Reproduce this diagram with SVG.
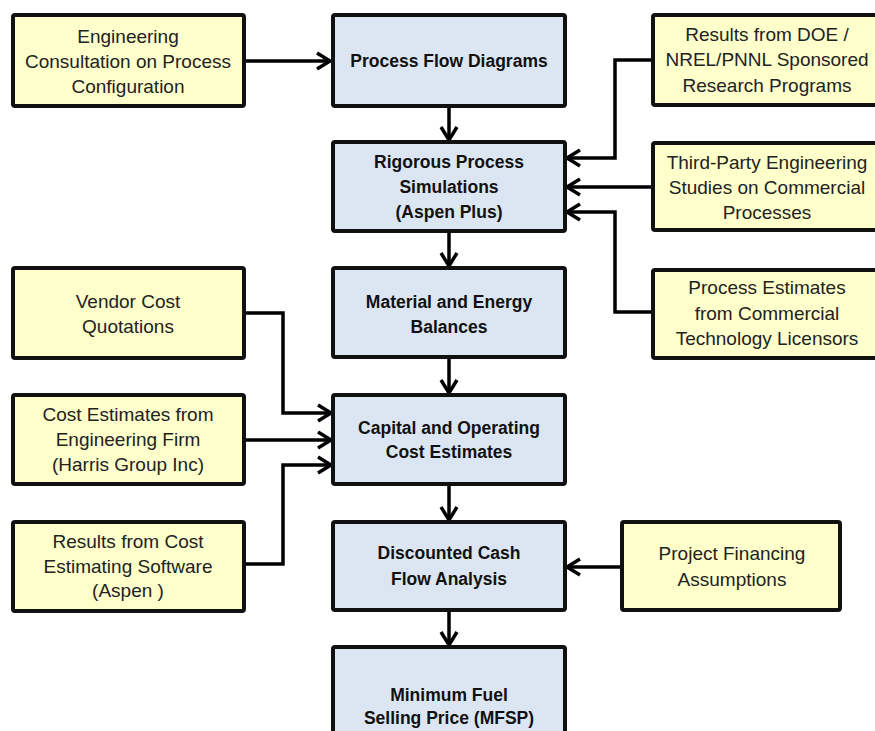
<svg xmlns="http://www.w3.org/2000/svg" width="875" height="731" viewBox="0 0 875 731">
<defs>
<marker id="arr" markerUnits="userSpaceOnUse" markerWidth="22" markerHeight="22" viewBox="-15 -11 17 22" refX="0" refY="0" orient="auto">
<path d="M-13,-8 L0,0 L-13,8" fill="none" stroke="#000" stroke-width="3.5"/>
</marker>
<style>
.in rect{fill:#FFFFCC;stroke:#111;stroke-width:4}
.pr rect{fill:#DCE6F2;stroke:#111;stroke-width:4}
.in text{font-family:"Liberation Sans",Arial,sans-serif;font-size:19px;fill:#222;text-anchor:middle}
.pr text{font-family:"Liberation Sans",Arial,sans-serif;font-size:17.5px;font-weight:bold;fill:#111;text-anchor:middle}
#connectors path{fill:none;stroke:#000;stroke-width:3.5;marker-end:url(#arr)}
</style>
</defs>
<rect width="875" height="731" fill="#fff"/>

<g id="connectors">
<path d="M245,61 H330"/>
<path d="M449,106 V140"/>
<path d="M449,231 V266"/>
<path d="M449,357 V393"/>
<path d="M449,484 V520"/>
<path d="M449,610 V645"/>
<path d="M653,60 H615 V158 H567"/>
<path d="M653,187 H567"/>
<path d="M653,312 H615 V212 H567"/>
<path d="M245,313 H283 V413 H331"/>
<path d="M245,440 H331"/>
<path d="M245,564 H283 V465 H331"/>
<path d="M622,567 H567"/>
</g>

<g id="n-eng" class="in"><rect x="13" y="15" width="231" height="91" rx="2"/>
<text x="128" y="43">Engineering</text><text x="128" y="68">Consultation on Process</text><text x="128" y="93">Configuration</text></g>

<g id="n-pfd" class="pr"><rect x="333" y="15" width="232" height="91" rx="2"/>
<text x="449" y="67">Process Flow Diagrams</text></g>

<g id="n-sim" class="pr"><rect x="333" y="142" width="232" height="89" rx="2"/>
<text x="449" y="168">Rigorous Process</text><text x="449" y="193">Simulations</text><text x="449" y="218">(Aspen Plus)</text></g>

<g id="n-meb" class="pr"><rect x="333" y="268" width="232" height="89" rx="2"/>
<text x="449" y="308">Material and Energy</text><text x="449" y="333">Balances</text></g>

<g id="n-cap" class="pr"><rect x="333" y="395" width="232" height="89" rx="2"/>
<text x="449" y="434">Capital and Operating</text><text x="449" y="458">Cost Estimates</text></g>

<g id="n-dcf" class="pr"><rect x="333" y="522" width="232" height="88" rx="2"/>
<text x="449" y="559">Discounted Cash</text><text x="449" y="585">Flow Analysis</text></g>

<g id="n-mfsp" class="pr"><rect x="333" y="647" width="232" height="92" rx="2"/>
<text x="449" y="701">Minimum  Fuel</text><text x="449" y="724">Selling Price (MFSP)</text></g>

<g id="n-doe" class="in"><rect x="653" y="15" width="240" height="90" rx="2"/>
<text x="767" y="41">Results from DOE /</text><text x="767" y="66">NREL/PNNL Sponsored</text><text x="767" y="92">Research Programs</text></g>

<g id="n-third" class="in"><rect x="653" y="143" width="240" height="87" rx="2"/>
<text x="767" y="169">Third-Party Engineering</text><text x="767" y="194">Studies on Commercial</text><text x="767" y="219">Processes</text></g>

<g id="n-lic" class="in"><rect x="653" y="270" width="240" height="88" rx="2"/>
<text x="767" y="294">Process Estimates</text><text x="767" y="320">from Commercial</text><text x="767" y="345">Technology Licensors</text></g>

<g id="n-vendor" class="in"><rect x="13" y="268" width="231" height="90" rx="2"/>
<text x="128" y="308">Vendor Cost</text><text x="128" y="333">Quotations</text></g>

<g id="n-firm" class="in"><rect x="13" y="395" width="231" height="89" rx="2"/>
<text x="128" y="421">Cost Estimates from</text><text x="128" y="446">Engineering Firm</text><text x="128" y="471">(Harris Group Inc)</text></g>

<g id="n-soft" class="in"><rect x="13" y="522" width="231" height="89" rx="2"/>
<text x="128" y="548">Results from Cost</text><text x="128" y="573">Estimating Software</text><text x="128" y="597">(Aspen )</text></g>

<g id="n-fin" class="in"><rect x="622" y="522" width="218" height="88" rx="2"/>
<text x="732" y="560">Project Financing</text><text x="732" y="586">Assumptions</text></g>
</svg>
